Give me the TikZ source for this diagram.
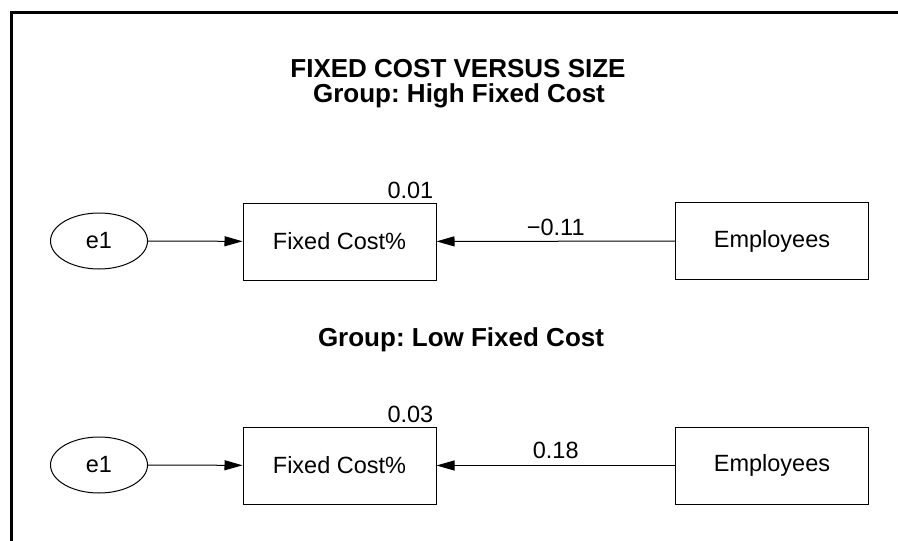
\documentclass[tikz,border=0pt]{standalone}
\usepackage{fontspec}
\setmainfont{Liberation Sans}
\frenchspacing
\usetikzlibrary{arrows.meta,positioning,shapes.geometric}

\tikzset{
  observed/.style={draw, line width=1pt, minimum width=193pt, minimum height=77pt, inner sep=0pt},
  latent/.style={draw, ellipse, line width=1pt, minimum width=97pt, minimum height=56pt, inner sep=0pt},
  regpath/.style={line width=1pt, -{Triangle[length=18pt,width=10pt]}},
  coef/.style={inner sep=0pt},
  heading/.style={font=\fontsize{26}{27}\selectfont\bfseries, align=center, inner sep=0pt}
}

\begin{document}
\begin{tikzpicture}[x=1pt, y=-1pt, font=\fontsize{23.5}{26}\selectfont]
    \useasboundingbox (0,0) rectangle (898,541);
    % frame
    \draw[line width=3pt] (898,12.5) -- (11,12.5) -- (11,541);
    % titles
    \node[heading] (T1) at (458,69) {FIXED COST VERSUS SIZE};
    \node[heading] (T2) at (459,96) {Group: High Fixed Cost};
    \node[heading] (T3) at (461,340) {Group: Low Fixed Cost};
    % high fixed cost group
    \node[latent] (E1) at (99,241) {e1};
    \node[observed] (F1) at (339.5,241.5) {Fixed Cost\%};
    \node[observed] (S1) at (772,241) {Employees};
    \draw[regpath] (E1) -- (F1);
    \draw[regpath] (S1) -- node[coef, above, yshift=5pt] {−0.11} (F1);
    \node[coef, anchor=south east] (R1) at ([xshift=-3pt,yshift=4pt]F1.north east) {0.01};
    % low fixed cost group
    \node[latent] (E2) at (99,465) {e1};
    \node[observed] (F2) at (339.5,465.5) {Fixed Cost\%};
    \node[observed] (S2) at (772,465.5) {Employees};
    \draw[regpath] (E2) -- (F2);
    \draw[regpath] (S2) -- node[coef, above, yshift=6pt] {0.18} (F2);
    \node[coef, anchor=south east] (R2) at ([xshift=-3pt,yshift=4pt]F2.north east) {0.03};
\end{tikzpicture}
\end{document}
